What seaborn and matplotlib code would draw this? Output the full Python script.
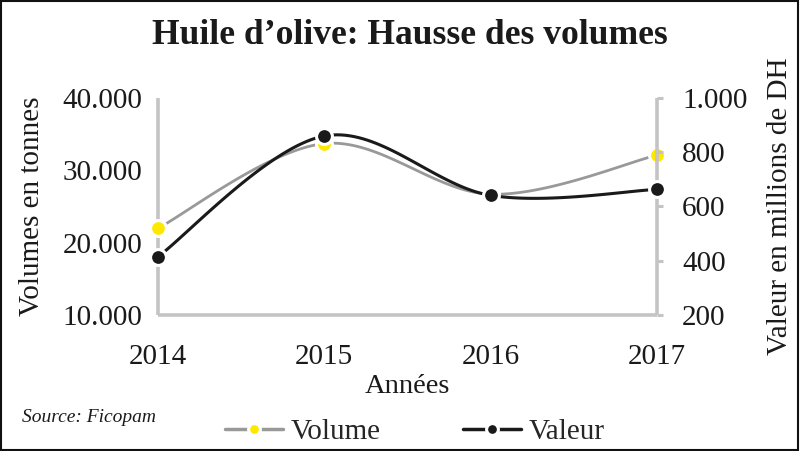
import numpy as np
import pandas as pd
import matplotlib
matplotlib.use("Agg")
import matplotlib.pyplot as plt
from matplotlib.lines import Line2D
import seaborn as sns

# ---- data ----
years = [2014, 2015, 2016, 2017]
volume = [22000, 33700, 26700, 32100]      # tonnes (left axis)
valeur = [415, 860, 641, 663]              # millions DH (right axis)
left_ticks = [10000, 20000, 30000, 40000]
left_labels = ["10.000", "20.000", "30.000", "40.000"]
right_ticks = [200, 400, 600, 800, 1000]
right_labels = ["200", "400", "600", "800", "1.000"]

sns.set_theme(style="white")
plt.rcParams['font.family'] = ['Liberation Serif', 'DejaVu Serif']

def smooth(x, y, n=40):
    """Bezier smoothing through the data points (Excel-like)."""
    x = np.asarray(x, float); y = np.asarray(y, float)
    P = np.column_stack([x, y])
    out = []
    for i in range(len(P) - 1):
        p0 = P[i - 1] if i > 0 else P[i]
        p1, p2 = P[i], P[i + 1]
        p3 = P[i + 2] if i + 2 < len(P) else P[i + 1]
        c1 = p1 + (p2 - p0) / 6.0
        c2 = p2 - (p3 - p1) / 6.0
        t = np.linspace(0, 1, n)[:, None]
        seg = ((1 - t) ** 3) * p1 + 3 * ((1 - t) ** 2) * t * c1 + 3 * (1 - t) * t ** 2 * c2 + t ** 3 * p2
        out.append(seg if i == 0 else seg[1:])
    S = np.vstack(out)
    return pd.DataFrame({"x": S[:, 0], "y": S[:, 1]})

W, H = 800, 451
FS = 21
TXT = "#1a1a1a"
fig = plt.figure(figsize=(W / 100, H / 100), dpi=100)
ax = fig.add_axes([158 / W, 1 - 315 / H, (657 - 158) / W, (315 - 98) / H])
ax2 = ax.twinx()

GRAY = "#c4c4c4"
VOLC = "#999999"
VALC = "#1a1a1a"
YEL = "#ffe800"

sv = smooth(years, volume)
sns.lineplot(data=sv, x="x", y="y", ax=ax, color=VOLC, lw=2.0, sort=False, zorder=3)
sns.scatterplot(x=years, y=volume, ax=ax, color=YEL, s=130, edgecolor="white",
                linewidth=2.2, zorder=5, clip_on=False)

sw = smooth(years, valeur)
sns.lineplot(data=sw, x="x", y="y", ax=ax2, color=VALC, lw=2.2, sort=False, zorder=3)
sns.scatterplot(x=years, y=valeur, ax=ax2, color=VALC, s=130, edgecolor="white",
                linewidth=2.2, zorder=6, clip_on=False)
for coll in ax.collections + ax2.collections:
    coll.set_clip_on(False)

ax.set_xlim(2014, 2017)
ax.set_ylim(10000, 40000)
ax2.set_ylim(200, 1000)
ax.set_xticks(years)
ax.set_xticklabels([str(y) for y in years])
ax.set_yticks(left_ticks)
ax.set_yticklabels(left_labels)
ax2.set_yticks(right_ticks)
ax2.set_yticklabels(right_labels)

for a in (ax, ax2):
    for s in a.spines.values():
        s.set_visible(False)
    a.set_facecolor("none")
    a.grid(False)
    a.set_xlabel("")
    a.set_ylabel("")
ax.spines["left"].set_visible(True)
ax.spines["bottom"].set_visible(True)
ax2.spines["right"].set_visible(True)
for s in (ax.spines["left"], ax.spines["bottom"], ax2.spines["right"]):
    s.set_color(GRAY)
    s.set_linewidth(2.6)
    s.set_zorder(1)
    s.set_capstyle("butt")

ax.tick_params(axis="y", length=0, pad=11, labelsize=FS, labelcolor=TXT)
ax.tick_params(axis="x", length=0, pad=21, labelsize=FS, labelcolor=TXT)
ax2.tick_params(axis="y", length=4, width=2.2, color=GRAY, direction="out", pad=14,
                labelsize=FS, labelcolor=TXT)

ax.set_ylabel("Volumes en tonnes", fontsize=FS, color=TXT, labelpad=13)
ax2.set_ylabel("Valeur en millions de DH", fontsize=FS, color=TXT, labelpad=14)
ax.set_xlabel("Années", fontsize=20.5, color=TXT, labelpad=3)

fig.text(410 / W, 1 - 36 / H, "Huile d\u2019olive: Hausse des volumes", ha="center", va="center",
         fontsize=25.6, fontweight="bold", color=TXT)
fig.text(22 / W, 1 - 418 / H, "Source: Ficopam", ha="left", va="center",
         fontsize=14, style="italic", color=TXT)

handles = [Line2D([0], [0], color=VOLC, lw=2.5, marker="o", markersize=8.5,
                  markerfacecolor=YEL, markeredgecolor="white", markeredgewidth=2.2),
           Line2D([0], [0], color=VALC, lw=2.5, marker="o", markersize=8.5,
                  markerfacecolor=VALC, markeredgecolor="white", markeredgewidth=2.2)]
fig.legend(handles, ["Volume", "Valeur"], loc="center", bbox_to_anchor=(415 / W, 1 - 432 / H),
           ncol=2, frameon=False, fontsize=FS, handlelength=2.0, handletextpad=0.27,
           columnspacing=2.8, borderaxespad=0, borderpad=0)

fig.add_artist(plt.Rectangle((0.001, 0.002), 0.996, 0.996, transform=fig.transFigure,
                             fill=False, edgecolor="#111111", lw=1.5))

fig.savefig("out.png", dpi=100, facecolor="white")
